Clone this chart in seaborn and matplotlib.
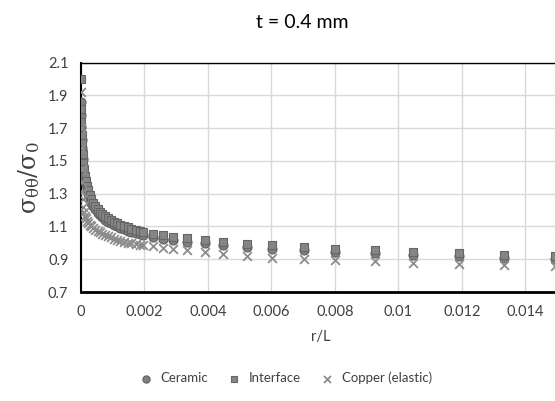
import matplotlib
matplotlib.use("Agg")
import matplotlib.pyplot as plt
import seaborn as sns
import pandas as pd

sns.set_theme(style="white")
plt.rcParams["font.family"] = ["Lato", "DejaVu Sans"]
plt.rcParams["mathtext.fontset"] = "dejavuserif"

r_over_L = [0, 0.000005, 0.00001, 0.00002, 0.00003, 0.00004, 0.00005, 0.00007, 0.00009,
            0.00012, 0.00015, 0.00019, 0.00023, 0.00028, 0.00033, 0.00039, 0.00045, 0.00052,
            0.00059, 0.00067, 0.00075, 0.00084, 0.00093, 0.00103, 0.00113, 0.00124, 0.00135,
            0.00147, 0.00159, 0.00172, 0.00185, 0.00196, 0.00228, 0.00259, 0.00291, 0.00333,
            0.00391, 0.00446, 0.00524, 0.00602, 0.00701, 0.00801, 0.00925, 0.01047, 0.01191,
            0.01333, 0.01493]

ceramic = [1.86, 1.78, 1.71, 1.63, 1.58, 1.54, 1.51, 1.46, 1.42,
           1.385, 1.355, 1.325, 1.30, 1.27, 1.245, 1.225, 1.205, 1.185,
           1.17, 1.155, 1.142, 1.13, 1.12, 1.11, 1.10, 1.09, 1.082,
           1.074, 1.067, 1.06, 1.053, 1.048, 1.035, 1.025, 1.015, 1.005,
           0.999, 0.989, 0.973, 0.962, 0.955, 0.947, 0.938, 0.928, 0.918,
           0.908, 0.90]

interface = [2.00, 1.82, 1.74, 1.66, 1.61, 1.57, 1.54, 1.49, 1.45,
             1.41, 1.38, 1.35, 1.32, 1.29, 1.265, 1.245, 1.225, 1.205,
             1.19, 1.175, 1.162, 1.15, 1.14, 1.13, 1.12, 1.11, 1.102,
             1.094, 1.086, 1.079, 1.072, 1.067, 1.055, 1.045, 1.036, 1.027,
             1.019, 1.007, 0.995, 0.987, 0.975, 0.965, 0.956, 0.944, 0.938,
             0.928, 0.92]

copper = [1.92, 1.70, 1.58, 1.45, 1.37, 1.31, 1.27, 1.22, 1.19,
          1.165, 1.15, 1.135, 1.12, 1.11, 1.10, 1.09, 1.08, 1.07,
          1.065, 1.055, 1.048, 1.04, 1.033, 1.026, 1.02, 1.013, 1.007,
          1.002, 0.997, 0.992, 0.988, 0.984, 0.978, 0.97, 0.963, 0.955,
          0.944, 0.935, 0.918, 0.91, 0.902, 0.894, 0.888, 0.878, 0.872,
          0.864, 0.858]

x_ticks = [0, 0.002, 0.004, 0.006, 0.008, 0.01, 0.012, 0.014]
x_tick_labels = ["0", "0.002", "0.004", "0.006", "0.008", "0.01", "0.012", "0.014"]
y_ticks = [0.7, 0.9, 1.1, 1.3, 1.5, 1.7, 1.9, 2.1]
y_tick_labels = ["0.7", "0.9", "1.1", "1.3", "1.5", "1.7", "1.9", "2.1"]

df = pd.DataFrame({"r": r_over_L, "Ceramic": ceramic, "Interface": interface,
                   "Copper (elastic)": copper})

fig = plt.figure(figsize=(5.55, 4.01), dpi=100)
ax = fig.add_axes([81 / 555, 1 - 292 / 401, 1 - 81 / 555 + 0.01, (292 - 62.7) / 401])

sns.scatterplot(data=df, x="r", y="Ceramic", ax=ax, marker="o", s=42,
                color="#7f7f7f", edgecolor="#606060", linewidth=0.8,
                label="Ceramic", zorder=3)
sns.scatterplot(data=df, x="r", y="Interface", ax=ax, marker="s", s=36,
                color="#858585", edgecolor="#666666", linewidth=0.8,
                label="Interface", zorder=3)
sns.scatterplot(data=df, x="r", y="Copper (elastic)", ax=ax, marker="x", s=40,
                color="#8c8c8c", linewidth=1.3, label="Copper (elastic)", zorder=4)

ax.set_xlim(0, 0.01493 * (1 + 0.01 / (1 - 81 / 555)))
ax.set_ylim(0.7, 2.1)
ax.set_xticks(x_ticks)
ax.set_xticklabels(x_tick_labels)
ax.set_yticks(y_ticks)
ax.set_yticklabels(y_tick_labels)
ax.tick_params(axis="both", labelsize=10.5, colors="#404040", length=0, pad=9)
ax.grid(True, color="#d9d9d9", linewidth=1.0)
ax.set_axisbelow(True)

ax.spines["right"].set_visible(False)
ax.spines["top"].set_color("#000000")
ax.spines["top"].set_linewidth(1.0)
ax.spines["left"].set_color("#000000")
ax.spines["left"].set_linewidth(1.5)
ax.spines["bottom"].set_color("#000000")
ax.spines["bottom"].set_linewidth(2.0)

ax.set_xlabel("r/L", fontsize=10.5, color="#404040", labelpad=8)
ax.set_ylabel(r"$\mathrm{\sigma_{\theta\theta}/\sigma_0}$", fontsize=17,
              color="#404040", labelpad=4)

fig.text(302 / 555, 1 - 22 / 401, "t = 0.4 mm", ha="center", va="center",
         fontsize=14, color="#000000")

handles, labels = ax.get_legend_handles_labels()
ax.legend_.remove()
fig.legend(handles, labels, loc="center", bbox_to_anchor=(282 / 555, 1 - 378 / 401),
           ncol=3, frameon=False, fontsize=9.5, handletextpad=0.1, columnspacing=1.0,
           markerscale=0.8, labelcolor="#404040")

fig.savefig("out.png", dpi=100)
